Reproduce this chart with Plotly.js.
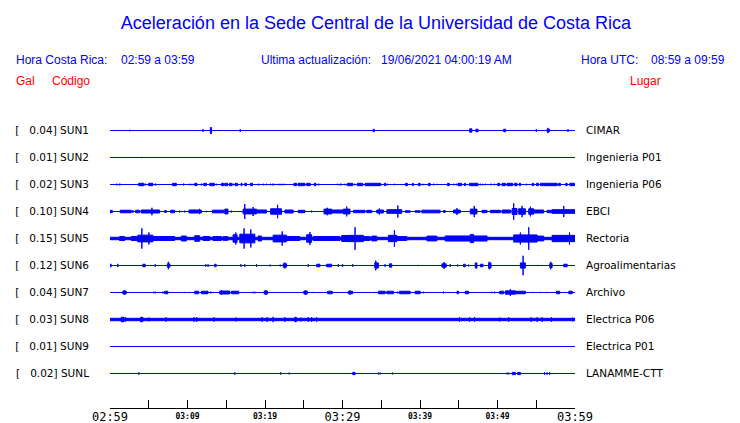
<!DOCTYPE html>
<html>
<head>
<meta charset="utf-8">
<script src="https://cdn.plot.ly/plotly-3.0.1.min.js"></script>
<style>html,body{margin:0;padding:0;background:#fff;}#chart{width:740px;height:423px;}</style>
</head>
<body>
<div id="chart"></div>
<script>
// ---- data (times in minutes after 02:59 local, amplitudes in Gal) ----
var stations = ['SUN1','SUN2','SUN3','SUN4','SUN5','SUN6','SUN7','SUN8','SUN9','SUNL'];
var places = ['CIMAR','Ingenieria P01','Ingenieria P06','EBCI','Rectoria','Agroalimentarias','Archivo','Electrica P06','Electrica P01','LANAMME-CTT'];
var peaks = [0.04,0.01,0.02,0.10,0.15,0.12,0.04,0.03,0.01,0.02];
var timeTicks = [0,5,10,15,20,25,30,35,40,45,50,55,60];
var majorTicks = [0,30,60];
var majorLabels = ['02:59','03:29','03:59'];
var minorTicks = [10,20,40,50];
var minorLabels = ['03:09','03:19','03:39','03:49'];

// each event: [start, end, half-amplitude]
var sun1 = [[2.56,2.56,.01],[12.0,12.0,.017],[12.95,13.1,.04],[16.8,16.8,.017],[33.95,34.1,.017],[41.9,41.9,.007],[46.4,46.7,.022],[47.2,47.5,.017],[50.8,51.05,.017],[55.0,55.0,.017],[56.4,56.7,.017],[56.5,56.5,.035],[59.1,59.1,.017]];
var sun2 = [[4.1,4.1,.008]];
var sun3 = [[0.88,0.88,.012],[1.27,1.27,.012],[3.69,4.37,.016],[4.55,4.55,.012],[4.98,5.53,.016],[5.88,5.88,.012],[8.08,8.56,.016],[9.50,9.50,.012],[10.28,10.28,.01],[10.58,10.58,.01],[10.93,11.22,.016],[11.79,11.79,.012],[12.09,12.44,.016],[12.87,13.47,.016],[13.73,13.73,.01],[14.38,14.68,.016],[14.81,15.16,.016],[15.41,15.71,.016],[15.88,15.88,.012],[16.14,16.45,.016],[16.91,17.04,.016],[17.39,17.61,.016],[18.13,18.39,.016],[19.20,19.20,.01],[19.81,19.81,.01],[20.20,20.20,.01],[20.72,20.72,.01],[20.97,20.97,.01],[21.18,21.18,.01],[21.79,21.79,.01],[22.09,22.09,.01],[22.47,22.47,.01],[23.73,24.08,.016],[24.28,25.15,.016],[25.37,25.84,.016],[26.35,26.57,.016],[26.92,26.92,.012],[29.33,29.33,.01],[29.68,29.68,.01],[29.81,29.81,.01],[30.32,30.32,.01],[30.62,31.32,.016],[31.53,31.53,.01],[31.91,32.61,.016],[32.91,34.94,.016],[35.40,35.59,.016],[35.84,35.84,.01],[36.70,36.70,.01],[38.12,38.38,.016],[39.03,39.15,.016],[39.80,40.02,.016],[40.37,40.37,.01],[41.09,41.31,.016],[41.74,41.74,.01],[42.22,42.22,.008],[43.55,43.77,.016],[44.33,44.33,.01],[44.68,44.68,.01],[44.90,45.36,.016],[45.71,45.88,.016],[46.40,47.48,.016],[47.78,47.78,.01],[48.08,48.08,.01],[48.43,48.43,.01],[49.16,49.16,.01],[49.59,49.59,.01],[50.02,50.28,.016],[50.59,51.01,.016],[51.23,51.96,.016],[52.21,52.52,.016],[52.82,52.99,.016],[53.73,53.73,.01],[54.47,54.67,.016],[55.02,55.28,.016],[55.54,57.70,.016],[57.90,58.12,.016],[58.81,58.99,.016],[59.33,59.94,.016]];
var sun4 = [[0,0.3,.015],[1.32,2.74,.017],[2.95,2.95,.017],[3.30,3.81,.017],[4.03,5.11,.02],[5.41,5.41,.05],[5.11,6.40,.02],[7.05,7.27,.012],[7.82,8.34,.017],[8.99,8.99,.012],[9.63,9.63,.012],[10.19,11.79,.02],[11.55,11.55,.035],[12.44,12.44,.01],[13.22,14.68,.018],[14.81,15.23,.032],[15.67,15.67,.012],[17.17,18.91,.032],[17.39,17.39,.1],[18.47,18.47,.06],[18.91,20.20,.02],[20.72,22.14,.036],[21.62,21.62,.09],[22.56,23.64,.02],[24.28,25.15,.016],[26.02,26.02,.012],[27.61,28.60,.032],[28.03,28.03,.05],[28.60,30.10,.02],[30.10,30.97,.032],[30.54,30.54,.065],[31.40,32.91,.016],[33.13,33.78,.016],[34.42,35.28,.02],[34.76,34.76,.04],[35.72,37.65,.024],[37.14,37.14,.08],[38.08,38.73,.01],[39.37,40.02,.01],[40.24,42.60,.018],[43.03,43.25,.012],[44.33,45.19,.02],[44.77,44.77,.045],[46.49,47.35,.032],[47.00,47.00,.075],[48.00,48.65,.016],[49.07,50.37,.016],[50.59,51.66,.02],[51.88,52.52,.04],[52.09,52.09,.11],[52.73,53.60,.036],[53.17,53.17,.075],[54.03,54.67,.036],[54.25,54.25,.065],[54.67,55.96,.02],[56.40,57.05,.016],[57.05,58.99,.024],[58.55,58.55,.075],[58.99,60,.024]];
var sun5 = [[0,60,.016],[1.23,1.88,.027],[2.74,3.59,.027],[3.59,5.53,.045],[4.11,4.11,.135],[5.02,5.02,.08],[5.53,7.27,.026],[7.27,8.34,.026],[9.21,9.85,.033],[10.93,11.57,.037],[12.00,12.87,.026],[13.29,14.38,.026],[14.59,15.23,.024],[15.88,16.40,.05],[16.23,16.23,.08],[16.75,18.69,.058],[17.30,17.30,.135],[18.17,18.17,.12],[19.11,19.55,.033],[21.05,22.78,.045],[22.22,22.22,.095],[22.78,24.50,.026],[25.37,26.02,.05],[25.80,25.80,.085],[26.22,29.68,.026],[29.90,30.75,.04],[30.75,32.69,.042],[31.62,31.62,.15],[32.69,33.56,.026],[33.78,34.42,.032],[35.92,37.01,.042],[36.70,36.70,.11],[37.01,38.30,.026],[40.89,42.18,.032],[43.25,48.65,.034],[46.49,46.91,.055],[52.09,55.11,.048],[52.95,52.95,.08],[54.03,54.03,.15],[55.11,55.96,.032],[57.05,60,.042],[59.29,59.29,.08]];
var sun6 = [[0,0.15,.017],[1.01,1.01,.022],[4.24,4.55,.017],[5.84,5.84,.017],[7.40,7.73,.022],[7.53,7.53,.05],[12.35,12.35,.017],[12.65,12.65,.017],[13.5,13.7,.017],[16.88,16.88,.017],[17.39,17.39,.017],[18.91,18.91,.017],[20.66,20.66,.012],[21.96,21.96,.012],[22.34,22.78,.022],[22.56,22.56,.04],[25.58,25.58,.017],[26.66,27.09,.017],[27.96,28.60,.017],[29.46,29.46,.017],[29.97,30.03,.017],[31.32,31.32,.017],[34.16,34.63,.035],[34.29,34.29,.065],[35.50,35.50,.017],[36.05,36.36,.022],[39.80,39.80,.008],[42.83,43.38,.022],[43.12,43.12,.045],[43.90,43.90,.017],[44.84,44.84,.012],[45.62,45.84,.017],[46.27,46.27,.012],[47.13,47.35,.035],[47.78,48.13,.017],[48.85,49.16,.035],[48.94,48.94,.05],[52.95,53.60,.035],[53.30,53.30,.13],[55.19,55.19,.008],[56.74,57.05,.027],[56.87,56.87,.05],[58.55,58.99,.017]];
var sun7 = [[1.66,2.09,.02],[1.88,1.88,.03],[5.66,5.66,.01],[5.88,5.88,.01],[6.83,6.83,.012],[7.05,7.47,.017],[9.63,9.63,.008],[10.28,10.28,.008],[10.93,11.44,.017],[11.79,12.65,.017],[13.00,13.00,.012],[14.16,15.45,.02],[14.38,14.38,.03],[15.67,16.62,.017],[18.47,18.47,.01],[18.69,18.69,.01],[19.89,20.33,.02],[20.11,20.11,.03],[25.02,25.45,.02],[25.24,25.24,.03],[26.22,26.22,.008],[28.09,28.68,.017],[30.75,31.32,.017],[30.97,30.97,.028],[34.11,34.11,.008],[34.63,35.50,.017],[35.72,36.57,.017],[37.09,37.09,.012],[37.34,38.73,.017],[39.37,40.02,.017],[40.45,40.45,.01],[43.03,43.03,.012],[44.77,44.97,.017],[45.84,46.27,.017],[49.29,49.29,.01],[49.63,49.63,.01],[50.28,50.79,.017],[51.01,52.31,.022],[51.66,51.66,.045],[52.31,53.60,.017],[54.54,54.54,.008],[55.54,55.54,.008],[56.40,56.40,.008],[57.61,58.03,.017],[59.20,59.64,.017]];
var sun8 = [[0,60,.016],[1.45,1.78,.03],[1.97,1.97,.03],[3.94,4.24,.03],[5.02,5.02,.025],[7.22,7.22,.03],[10.84,10.84,.03],[11.19,11.19,.03],[13.42,13.42,.03],[16.27,16.27,.025],[19.63,19.63,.03],[20.28,20.28,.03],[21.05,21.05,.035],[22.56,22.56,.03],[23.85,24.05,.03],[24.63,24.63,.025],[25.58,25.58,.03],[26.02,26.02,.03],[26.66,26.66,.03],[45.10,45.10,.03],[46.40,46.40,.03],[47.04,47.04,.03],[50.28,50.28,.025],[51.44,51.44,.03],[54.34,54.34,.03],[55.11,55.11,.03],[55.76,55.76,.03],[56.96,56.96,.03],[59.71,59.71,.025]];
var sun9 = [[50.02,50.02,.007]];
var sunL = [[3.72,3.72,.015],[6.31,6.31,.007],[15.80,15.80,.007],[16.10,16.10,.015],[22.01,22.01,.015],[23.12,23.12,.012],[27.13,27.13,.007],[31.32,31.62,.015],[34.63,34.63,.012],[34.85,34.85,.012],[36.44,36.44,.012],[42.39,42.39,.007],[43.68,43.68,.007],[47.43,47.43,.007],[47.78,47.78,.007],[51.23,51.23,.012],[51.44,51.44,.012],[51.88,52.3,.015],[52.6,52.95,.015],[56.06,56.06,.015],[56.40,56.40,.015],[56.74,56.74,.015]];
var events = [sun1,sun2,sun3,sun4,sun5,sun6,sun7,sun8,sun9,sunL];

// ---- layout constants ----
var pxPerGal = 75;
var rowGap = 27 / pxPerGal;
var plotTop = 110, plotBottom = 408, plotLeft = 110, plotRight = 575;
var plotH = plotBottom - plotTop;
var firstRowPx = 20.5;
var yMax = firstRowPx / pxPerGal;
var yMin = -(plotH - firstRowPx) / pxPerGal;
var blue = 'rgb(0,0,255)';

var traces = [];
var offsets = [];
stations.forEach(function(s, i){
  var off = -i * rowGap;
  offsets.push(off);
  // baseline (on the overlay axes x2/y2)
  traces.push({type:'scatter', mode:'lines', x:[0,60], y:[off,off], xaxis:'x2', yaxis:'y2',
    line:{color:blue, width:1}, hoverinfo:'skip', showlegend:false});
  // event envelopes
  var xs = [], ys = [];
  events[i].forEach(function(e){
    xs.push(e[0], e[1], e[1], e[0], e[0], null);
    ys.push(off - e[2], off - e[2], off + e[2], off + e[2], off - e[2], null);
  });
  traces.push({type:'scatter', mode:'lines', x:xs, y:ys, fill:'toself', fillcolor:blue,
    line:{color:blue, width:1}, hoverinfo:'skip', showlegend:false, connectgaps:false});
});

var leftLabels = stations.map(function(s, i){
  return '[\u00a0\u00a0\u00a0' + peaks[i].toFixed(2) + '] ' + s;
});
var majorText = timeTicks.map(function(t){
  var k = majorTicks.indexOf(t);
  return k >= 0 ? majorLabels[k] : '';
});

function px2paperX(px){ return (px - plotLeft) / (plotRight - plotLeft); }
function px2paperY(py){ return (plotBottom - py) / plotH; }
function ann(text, px, py, color){
  return {text:text, xref:'paper', yref:'paper', x:px2paperX(px), y:px2paperY(py),
    xanchor:'left', yanchor:'middle', showarrow:false, borderpad:0,
    font:{family:'Liberation Sans, Arial, sans-serif', size:12, color:color}};
}

var layout = {
  width:740, height:423,
  margin:{l:plotLeft, r:740-plotRight, t:plotTop, b:423-plotBottom, pad:0},
  paper_bgcolor:'#ffffff', plot_bgcolor:'#ffffff',
  showlegend:false,
  title:{text:'Aceleración en la Sede Central de la Universidad de Costa Rica',
    font:{family:'Liberation Sans, Arial, sans-serif', size:18, color:blue},
    xref:'container', yref:'container', x:376/740, y:1-23/423, xanchor:'center', yanchor:'middle'},
  xaxis:{range:[0,60], tickmode:'array', tickvals:timeTicks, ticktext:majorText, anchor:'y',
    ticks:'inside', ticklen:8, tickwidth:1, tickcolor:'#000', showline:true, linecolor:'#000', linewidth:1,
    showgrid:false, zeroline:false, fixedrange:true, ticklabelstandoff:-2,
    tickfont:{family:'DejaVu Sans Mono, monospace', size:12, color:'#000'}},
  xaxis2:{range:[0,60], overlaying:'x', anchor:'y2', side:'bottom', tickmode:'array', tickvals:minorTicks, ticktext:minorLabels,
    ticks:'', showline:false, showgrid:false, zeroline:false, fixedrange:true, ticklabelstandoff:2,
    tickfont:{family:'DejaVu Sans Mono, monospace', size:8, color:'#000', weight:'bold'}},
  yaxis:{range:[yMin,yMax], tickmode:'array', tickvals:offsets, ticktext:leftLabels, anchor:'x',
    showgrid:false, zeroline:false, showline:false, ticks:'', ticklabelstandoff:20, fixedrange:true,
    tickfont:{family:'DejaVu Sans, sans-serif', size:10.5, color:'#000'}},
  yaxis2:{range:[yMin,yMax], overlaying:'y', anchor:'x2', side:'right', tickmode:'array', tickvals:offsets, ticktext:places,
    showgrid:false, zeroline:false, showline:false, ticks:'', ticklabelstandoff:10, fixedrange:true,
    tickfont:{family:'DejaVu Sans, sans-serif', size:10.5, color:'#000'}},
  annotations:[
    ann('Hora Costa Rica:', 15, 60, blue),
    ann('02:59 a 03:59', 120, 60, blue),
    ann('Ultima actualización:\u00a0\u00a0 19/06/2021 04:00:19 AM', 260, 60, blue),
    ann('Hora UTC:', 580, 60, blue),
    ann('08:59 a 09:59', 650, 60, blue),
    ann('Gal', 15, 81, 'rgb(255,0,0)'),
    ann('Código', 51, 81, 'rgb(255,0,0)'),
    ann('Lugar', 629, 81, 'rgb(255,0,0)')
  ]
};

Plotly.newPlot('chart', traces, layout, {staticPlot:true, displayModeBar:false});
</script>
</body>
</html>
